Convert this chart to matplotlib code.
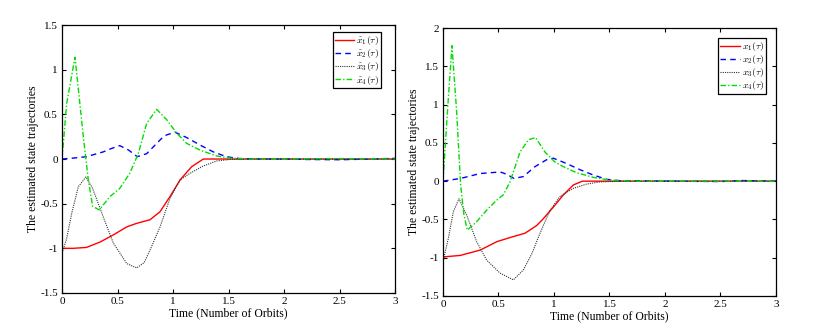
import matplotlib
matplotlib.use("Agg")
import matplotlib.pyplot as plt

plt.rcParams['font.family'] = ['Liberation Serif', 'DejaVu Serif']
plt.rcParams['mathtext.fontset'] = 'cm'

# ---- Left panel (estimated states) ----
tL1 = [0, 0.1, 0.22, 0.342, 0.462, 0.583, 0.673, 0.793, 0.883, 0.973, 1.063, 1.168, 1.273, 1.5, 2.0, 2.5, 3.0]
xL1 = [-1.0, -1.0, -0.99, -0.93, -0.85, -0.76, -0.72, -0.68, -0.59, -0.42, -0.235, -0.086, 0.0, 0.0, 0.0, 0.0, 0.0]

tL2 = [0, 0.1, 0.22, 0.372, 0.45, 0.52, 0.6, 0.678, 0.763, 0.853, 0.913, 0.943, 1.018, 1.123, 1.243, 1.363, 1.483, 1.6, 1.8, 2.0, 2.2, 2.5, 2.8, 3.0]
xL2 = [0.0, 0.01, 0.026, 0.08, 0.12, 0.15, 0.1, 0.026, 0.06, 0.175, 0.25, 0.27, 0.30, 0.24, 0.157, 0.08, 0.025, 0.005, 0.0, 0.0, -0.005, -0.008, 0.0, 0.008]

tL3 = [0, 0.042, 0.087, 0.147, 0.216, 0.276, 0.372, 0.462, 0.583, 0.673, 0.74, 0.8, 0.883, 0.973, 1.063, 1.153, 1.273, 1.393, 1.513, 1.7, 2.0, 3.0]
xL3 = [-1.056, -0.89, -0.61, -0.31, -0.2, -0.33, -0.65, -0.94, -1.17, -1.22, -1.16, -1.0, -0.76, -0.44, -0.235, -0.16, -0.078, -0.022, -0.005, 0.0, 0.0, 0.0]

tL4 = [0, 0.042, 0.072, 0.117, 0.192, 0.237, 0.276, 0.336, 0.432, 0.52, 0.61, 0.687, 0.763, 0.853, 0.943, 1.033, 1.123, 1.243, 1.393, 1.513, 1.7, 2.0, 2.5, 3.0]
xL4 = [0.0, 0.62, 0.83, 1.14, 0.25, -0.235, -0.53, -0.57, -0.42, -0.33, -0.16, 0.06, 0.4, 0.556, 0.44, 0.29, 0.175, 0.1, 0.034, 0.01, 0.0, 0.0, 0.005, 0.0]

# ---- Right panel (states) ----
tR1 = [0, 0.156, 0.336, 0.486, 0.619, 0.739, 0.844, 0.904, 0.994, 1.084, 1.174, 1.255, 1.5, 2.0, 2.5, 3.0]
xR1 = [-0.99, -0.97, -0.9, -0.79, -0.73, -0.68, -0.58, -0.49, -0.34, -0.18, -0.05, 0.0, 0.0, 0.0, 0.0, 0.0]

tR2 = [0, 0.156, 0.336, 0.516, 0.574, 0.64, 0.724, 0.829, 0.934, 0.994, 1.114, 1.234, 1.354, 1.474, 1.6, 2.0, 2.5, 2.7, 3.0]
xR2 = [0.0, 0.035, 0.1, 0.12, 0.09, 0.035, 0.06, 0.19, 0.28, 0.3, 0.23, 0.15, 0.08, 0.024, 0.005, 0.0, -0.005, 0.008, 0.0]

tR3 = [0, 0.048, 0.093, 0.144, 0.213, 0.303, 0.393, 0.513, 0.634, 0.724, 0.8, 0.874, 0.964, 1.054, 1.174, 1.294, 1.414, 1.6, 2.0, 3.0]
xR3 = [-1.05, -0.75, -0.4, -0.23, -0.44, -0.79, -1.03, -1.2, -1.29, -1.16, -0.95, -0.68, -0.38, -0.2, -0.094, -0.038, -0.01, 0.0, 0.0, 0.0]

tR4 = [0, 0.048, 0.081, 0.123, 0.159, 0.189, 0.219, 0.303, 0.393, 0.483, 0.543, 0.604, 0.694, 0.769, 0.834, 0.919, 1.009, 1.084, 1.204, 1.354, 1.5, 1.7, 2.0, 3.0]
xR4 = [0.0, 1.08, 1.77, 0.91, -0.05, -0.44, -0.64, -0.53, -0.38, -0.25, -0.18, -0.01, 0.38, 0.54, 0.57, 0.38, 0.25, 0.19, 0.11, 0.05, 0.014, 0.0, 0.0, 0.0]

labelsL = [r'$\hat{x}_1(\tau)$', r'$\hat{x}_2(\tau)$', r'$\hat{x}_3(\tau)$', r'$\hat{x}_4(\tau)$']
labelsR = [r'$x_1(\tau)$', r'$x_2(\tau)$', r'$x_3(\tau)$', r'$x_4(\tau)$']
xticks = [0, 0.5, 1, 1.5, 2, 2.5, 3]
xticklabels = ['0', '0.5', '1', '1.5', '2', '2.5', '3']
yticksL = [-1.5, -1, -0.5, 0, 0.5, 1, 1.5]
yticklabelsL = ['-1.5', '-1', '-0.5', '0', '0.5', '1', '1.5']
yticksR = [-1.5, -1, -0.5, 0, 0.5, 1, 1.5, 2]
yticklabelsR = ['-1.5', '-1', '-0.5', '0', '0.5', '1', '1.5', '2']

styles = [dict(color='#ff0000', ls='-', lw=1.0),
          dict(color='#0000ff', ls=(0, (4, 3)), lw=1.0),
          dict(color='#333333', ls=(0, (1, 1)), lw=0.8),
          dict(color='#00dd00', ls=(0, (4, 1.5, 1, 1.5)), lw=1.0)]

fig = plt.figure(figsize=(8.17, 3.34), dpi=100)
axL = fig.add_axes([0.0759, 0.1228, 0.4076, 0.8022])
axR = fig.add_axes([0.5422, 0.1138, 0.4076, 0.8022])

def setup(ax, series, labels, yticks, yticklabels, ylim, legend_anchor):
    for (t, x), lab, st in zip(series, labels, styles):
        ax.plot(t, x, label=lab, **st)
    ax.set_xlim(0, 3)
    ax.set_ylim(*ylim)
    ax.set_xticks(xticks)
    ax.set_xticklabels(xticklabels)
    ax.set_yticks(yticks)
    ax.set_yticklabels(yticklabels)
    ax.tick_params(direction='in', top=True, right=True, labelsize=8, length=3, pad=3)
    for s in ax.spines.values():
        s.set_linewidth(0.9)
    ax.set_xlabel('Time (Number of Orbits)', fontsize=8.5, labelpad=1)
    ax.set_ylabel('The estimated state trajectories', fontsize=8.5, labelpad=1)
    leg = ax.legend(loc='upper right', bbox_to_anchor=legend_anchor, fontsize=7,
                    fancybox=False, edgecolor='black', framealpha=1,
                    handlelength=2.0, handletextpad=0.2, borderpad=0.2,
                    labelspacing=0.02, borderaxespad=0)
    leg.get_frame().set_linewidth(0.9)

setup(axL, [(tL1, xL1), (tL2, xL2), (tL3, xL3), (tL4, xL4)], labelsL,
      yticksL, yticklabelsL, (-1.5, 1.5), (0.958, 0.974))
setup(axR, [(tR1, xR1), (tR2, xR2), (tR3, xR3), (tR4, xR4)], labelsR,
      yticksR, yticklabelsR, (-1.5, 2.0), (0.970, 0.963))

fig.savefig('out.png', dpi=100)
